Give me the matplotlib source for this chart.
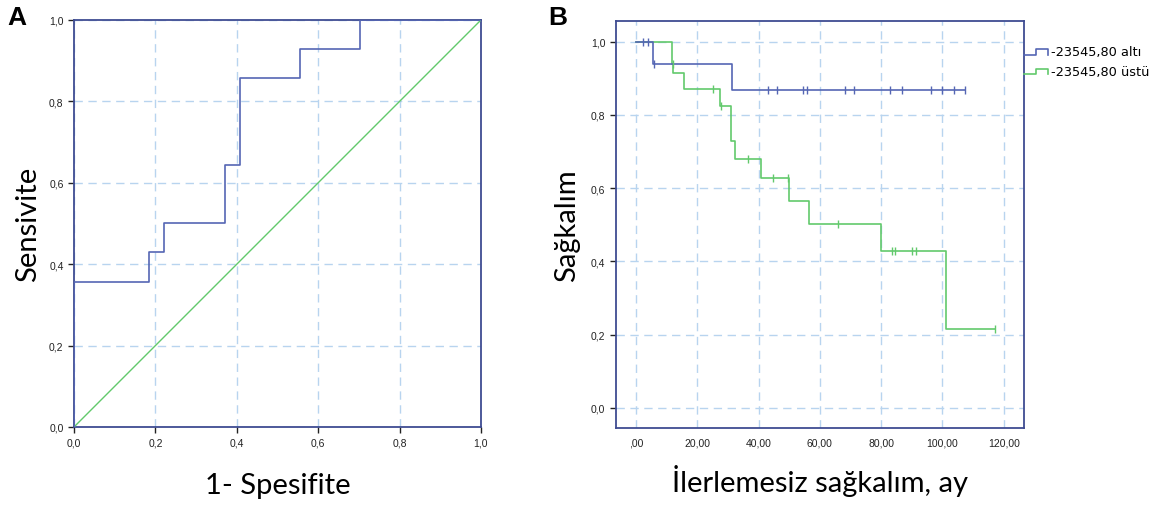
import numpy as np
import matplotlib
matplotlib.use("Agg")
import matplotlib.pyplot as plt
from matplotlib.lines import Line2D
from matplotlib.legend_handler import HandlerBase

plt.rcParams["font.family"] = ["Liberation Sans", "DejaVu Sans"]

# ROC curve (panel A)
roc_fpr = [0.0, 0.0, 0.185, 0.185, 0.222, 0.222, 0.370, 0.370, 0.407, 0.407, 0.556, 0.556, 0.704, 0.704, 1.0]
roc_tpr = [0.0, 0.357, 0.357, 0.429, 0.429, 0.500, 0.500, 0.643, 0.643, 0.857, 0.857, 0.929, 0.929, 1.0, 1.0]
ref_line = [0.0, 1.0]
roc_ticks = [0.0, 0.2, 0.4, 0.6, 0.8, 1.0]
roc_ticklabels = ["0,0", "0,2", "0,4", "0,6", "0,8", "1,0"]

# Kaplan-Meier curves (panel B)
low_times = [0.0, 5.4, 31.3, 107.5]
low_surv = [1.0, 0.939, 0.867, 0.867]
low_cens = [2.4, 4.0, 5.8, 43.0, 46.0, 54.5, 55.7, 68.2, 71.1, 82.8, 86.8, 96.1, 100.0, 103.9, 107.3]

high_times = [0.0, 11.6, 12.2, 15.7, 27.5, 30.9, 32.4, 40.9, 49.9, 56.5, 79.8, 101.1, 117.1]
high_surv = [1.0, 0.939, 0.914, 0.870, 0.825, 0.728, 0.679, 0.627, 0.565, 0.501, 0.429, 0.216, 0.216]
high_cens = [12.0, 25.2, 27.6, 36.5, 44.8, 49.7, 65.8, 83.6, 84.5, 89.9, 91.5, 117.1]

km_xticks = [0, 20, 40, 60, 80, 100, 120]
km_xticklabels = [",00", "20,00", "40,00", "60,00", "80,00", "100,00", "120,00"]
km_yticks = [0.0, 0.2, 0.4, 0.6, 0.8, 1.0]
km_yticklabels = ["0,0", "0,2", "0,4", "0,6", "0,8", "1,0"]
group_labels = ["-23545,80 altı", "-23545,80 üstü"]

BLUE = "#5566b4"
GREEN = "#62c96c"
FRAME = "#3f4c92"
GRID = "#b8d4ef"
LABELFONT = dict(family="Lato", size=21)


def surv_at(times, surv, t):
    i = np.searchsorted(times, t, side="right") - 1
    return surv[i]


def style_axes(ax):
    for s in ax.spines.values():
        s.set_color(FRAME)
        s.set_linewidth(1.3)
    ax.grid(True, color=GRID, linestyle=(0, (6, 4)), linewidth=1.0)
    ax.set_axisbelow(True)
    ax.tick_params(colors="#222222", labelsize=7.5, length=4, width=1, direction="out")


class StepHandler(HandlerBase):
    def create_artists(self, legend, orig_handle, xdescent, ydescent,
                       width, height, fontsize, trans):
        xs = np.array([0, 0.5, 0.5, 1.0, 1.0]) * width - xdescent
        ys = np.array([0.05, 0.05, 0.7, 0.7, 0.05]) * height - ydescent
        ln = Line2D(xs, ys, color=orig_handle.get_color(), lw=1.2, transform=trans)
        return [ln]


fig = plt.figure(figsize=(11.62, 5.06), dpi=100)

# Panel A
axA = fig.add_axes([0.0637, 0.1542, 0.3502, 0.8043])
axA.plot(ref_line, ref_line, color=GREEN, lw=1.0, zorder=3)
axA.plot(roc_fpr, roc_tpr, color=BLUE, lw=1.2, zorder=4)
axA.set_xlim(0, 1)
axA.set_ylim(0, 1)
axA.set_xticks(roc_ticks)
axA.set_xticklabels(roc_ticklabels)
axA.set_yticks(roc_ticks)
axA.set_yticklabels(roc_ticklabels)
style_axes(axA)
axA.set_xlabel("1- Spesifite", labelpad=18, **LABELFONT)
axA.set_ylabel("Sensivite", labelpad=6, **LABELFONT)

# Panel B
axB = fig.add_axes([0.5299, 0.1522, 0.3516, 0.8043])
axB.step(high_times, high_surv, where="post", color=GREEN, lw=1.2, zorder=3)
axB.step(low_times, low_surv, where="post", color=BLUE, lw=1.2, zorder=4)
axB.plot(high_cens, [surv_at(high_times, high_surv, t) for t in high_cens],
         ls="none", marker="|", ms=5.5, mew=1.0, color=GREEN, zorder=5)
axB.plot(low_cens, [surv_at(low_times, low_surv, t) for t in low_cens],
         ls="none", marker="|", ms=5.5, mew=1.0, color=BLUE, zorder=5)
axB.set_xlim(-6.6, 126.7)
axB.set_ylim(-0.055, 1.056)
axB.set_xticks(km_xticks)
axB.set_xticklabels(km_xticklabels)
axB.set_yticks(km_yticks)
axB.set_yticklabels(km_yticklabels)
style_axes(axB)
axB.tick_params(axis="x", length=0, pad=7)
axB.set_xlabel("İlerlemesiz sağkalım, ay", labelpad=12, **LABELFONT)
axB.set_ylabel("Sağkalım", labelpad=8, **LABELFONT)

handles = [Line2D([], [], color=BLUE), Line2D([], [], color=GREEN)]
leg = axB.legend(handles, group_labels, handler_map={Line2D: StepHandler()},
                 loc="upper left", bbox_to_anchor=(1.0, 0.94), frameon=False,
                 handlelength=1.85, handletextpad=0.2, borderaxespad=0, borderpad=0,
                 labelspacing=0.5, prop={"family": "DejaVu Sans", "size": 9.3})

fig.text(0.006, 0.988, "A", fontsize=19, fontweight="bold", va="top")
fig.text(0.472, 0.988, "B", fontsize=19, fontweight="bold", va="top")

fig.savefig("out.png", dpi=100)
